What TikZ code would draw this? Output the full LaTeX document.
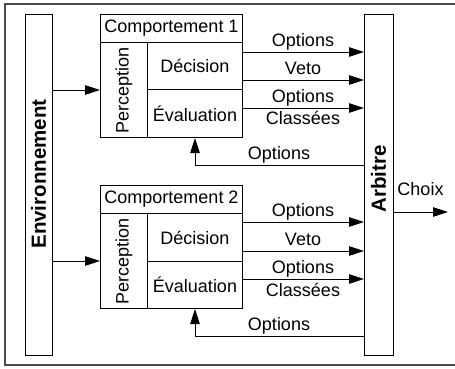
\documentclass[tikz,border=0pt]{standalone}
\usepackage{fontspec}
\setmainfont{Liberation Sans}
\usetikzlibrary{arrows.meta}
\begin{document}
\begin{tikzpicture}[x=1pt,y=-1pt,
  box/.style={draw, line width=1pt, inner sep=0pt, anchor=north west},
  txt/.style={font=\fontsize{18}{21}\selectfont, inner sep=0pt},
  btxt/.style={font=\fontsize{20.5}{24}\selectfont\bfseries, inner sep=0pt},
  lbl/.style={font=\fontsize{18}{21}\selectfont, inner sep=0pt, anchor=base},
  arr/.style={line width=1pt, -{Triangle[length=15pt,width=9.5pt]}},
  frame/.style={draw=black!70, line width=1.4pt}]
\useasboundingbox (0,0) rectangle (455,368);
\draw[frame] (458,4) -- (5,4) -- (5,365) -- (458,365);

% Environment and arbiter
\node[box, minimum width=27pt, minimum height=341pt] (env) at (25,14) {};
\node[btxt, rotate=90] (envt) at (38.5,174) {Environnement};
\node[box, minimum width=29pt, minimum height=341pt] (arb) at (364,14) {};
\node[btxt, rotate=90] (arbt) at (378.5,179) {Arbitre};

% Behaviour 1
\node[box, minimum width=142pt, minimum height=28pt] (c1t) at (100,14) {};
\node[txt] (c1tt) at (c1t.center) {Comportement 1};
\node[box, minimum width=47pt, minimum height=95pt] (c1p) at (100,42) {};
\node[txt, rotate=90] (c1pt) at (c1p.center) {Perception};
\node[box, minimum width=95pt, minimum height=47pt] (c1d) at (147,42) {};
\node[txt] (c1dt) at (c1d.center) {Décision};
\node[box, minimum width=95pt, minimum height=48pt] (c1e) at (147,89) {};
\node[txt] (c1et) at (c1e.center) {Évaluation};

% Behaviour 2
\node[box, minimum width=142pt, minimum height=28pt] (c2t) at (100,185) {};
\node[txt] (c2tt) at (c2t.center) {Comportement 2};
\node[box, minimum width=47pt, minimum height=95pt] (c2p) at (100,213) {};
\node[txt, rotate=90] (c2pt) at (c2p.center) {Perception};
\node[box, minimum width=95pt, minimum height=48pt] (c2d) at (147,213) {};
\node[txt] (c2dt) at (c2d.center) {Décision};
\node[box, minimum width=95pt, minimum height=47pt] (c2e) at (147,261) {};
\node[txt] (c2et) at (c2e.center) {Évaluation};

% reference heights
\coordinate (a1) at (0,52);
\coordinate (a2) at (0,80);
\coordinate (a3) at (0,108);
\coordinate (f1) at (0,165);
\coordinate (b1) at (0,222);
\coordinate (b2) at (0,251);
\coordinate (b3) at (0,279);
\coordinate (f2) at (0,336);
\coordinate (ch) at (0,212);
\coordinate (chend) at (448,212);

% Environment to perception
\draw[arr] (env.east |- c1p) -- (c1p.west);
\draw[arr] (env.east |- c2p) -- (c2p.west);

% Behaviour 1 outputs
\draw[arr] (c1d.east |- a1) -- (arb.west |- a1);
\draw[arr] (c1d.east |- a2) -- (arb.west |- a2);
\draw[arr] (c1e.east |- a3) -- (arb.west |- a3);
\draw[arr] (arb.west |- f1) -| (c1e.south);
\node[lbl] (l11) at (303,46) {Options};
\node[lbl] (l12) at (303,74) {Veto};
\node[lbl] (l13) at (303,102) {Options};
\node[lbl] (l14) at (303,124.5) {Classées};
\node[lbl] (l15) at (279,159) {Options};

% Behaviour 2 outputs
\draw[arr] (c2d.east |- b1) -- (arb.west |- b1);
\draw[arr] (c2d.east |- b2) -- (arb.west |- b2);
\draw[arr] (c2e.east |- b3) -- (arb.west |- b3);
\draw[arr] (arb.west |- f2) -| (c2e.south);
\node[lbl] (l21) at (303,216) {Options};
\node[lbl] (l22) at (303,245) {Veto};
\node[lbl] (l23) at (303,273) {Options};
\node[lbl] (l24) at (303,296) {Classées};
\node[lbl] (l25) at (279,330) {Options};

% Choice
\draw[arr] (arb.east |- ch) -- (chend);
\node[lbl] (lch) at (420.5,195) {Choix};
\end{tikzpicture}
\end{document}
